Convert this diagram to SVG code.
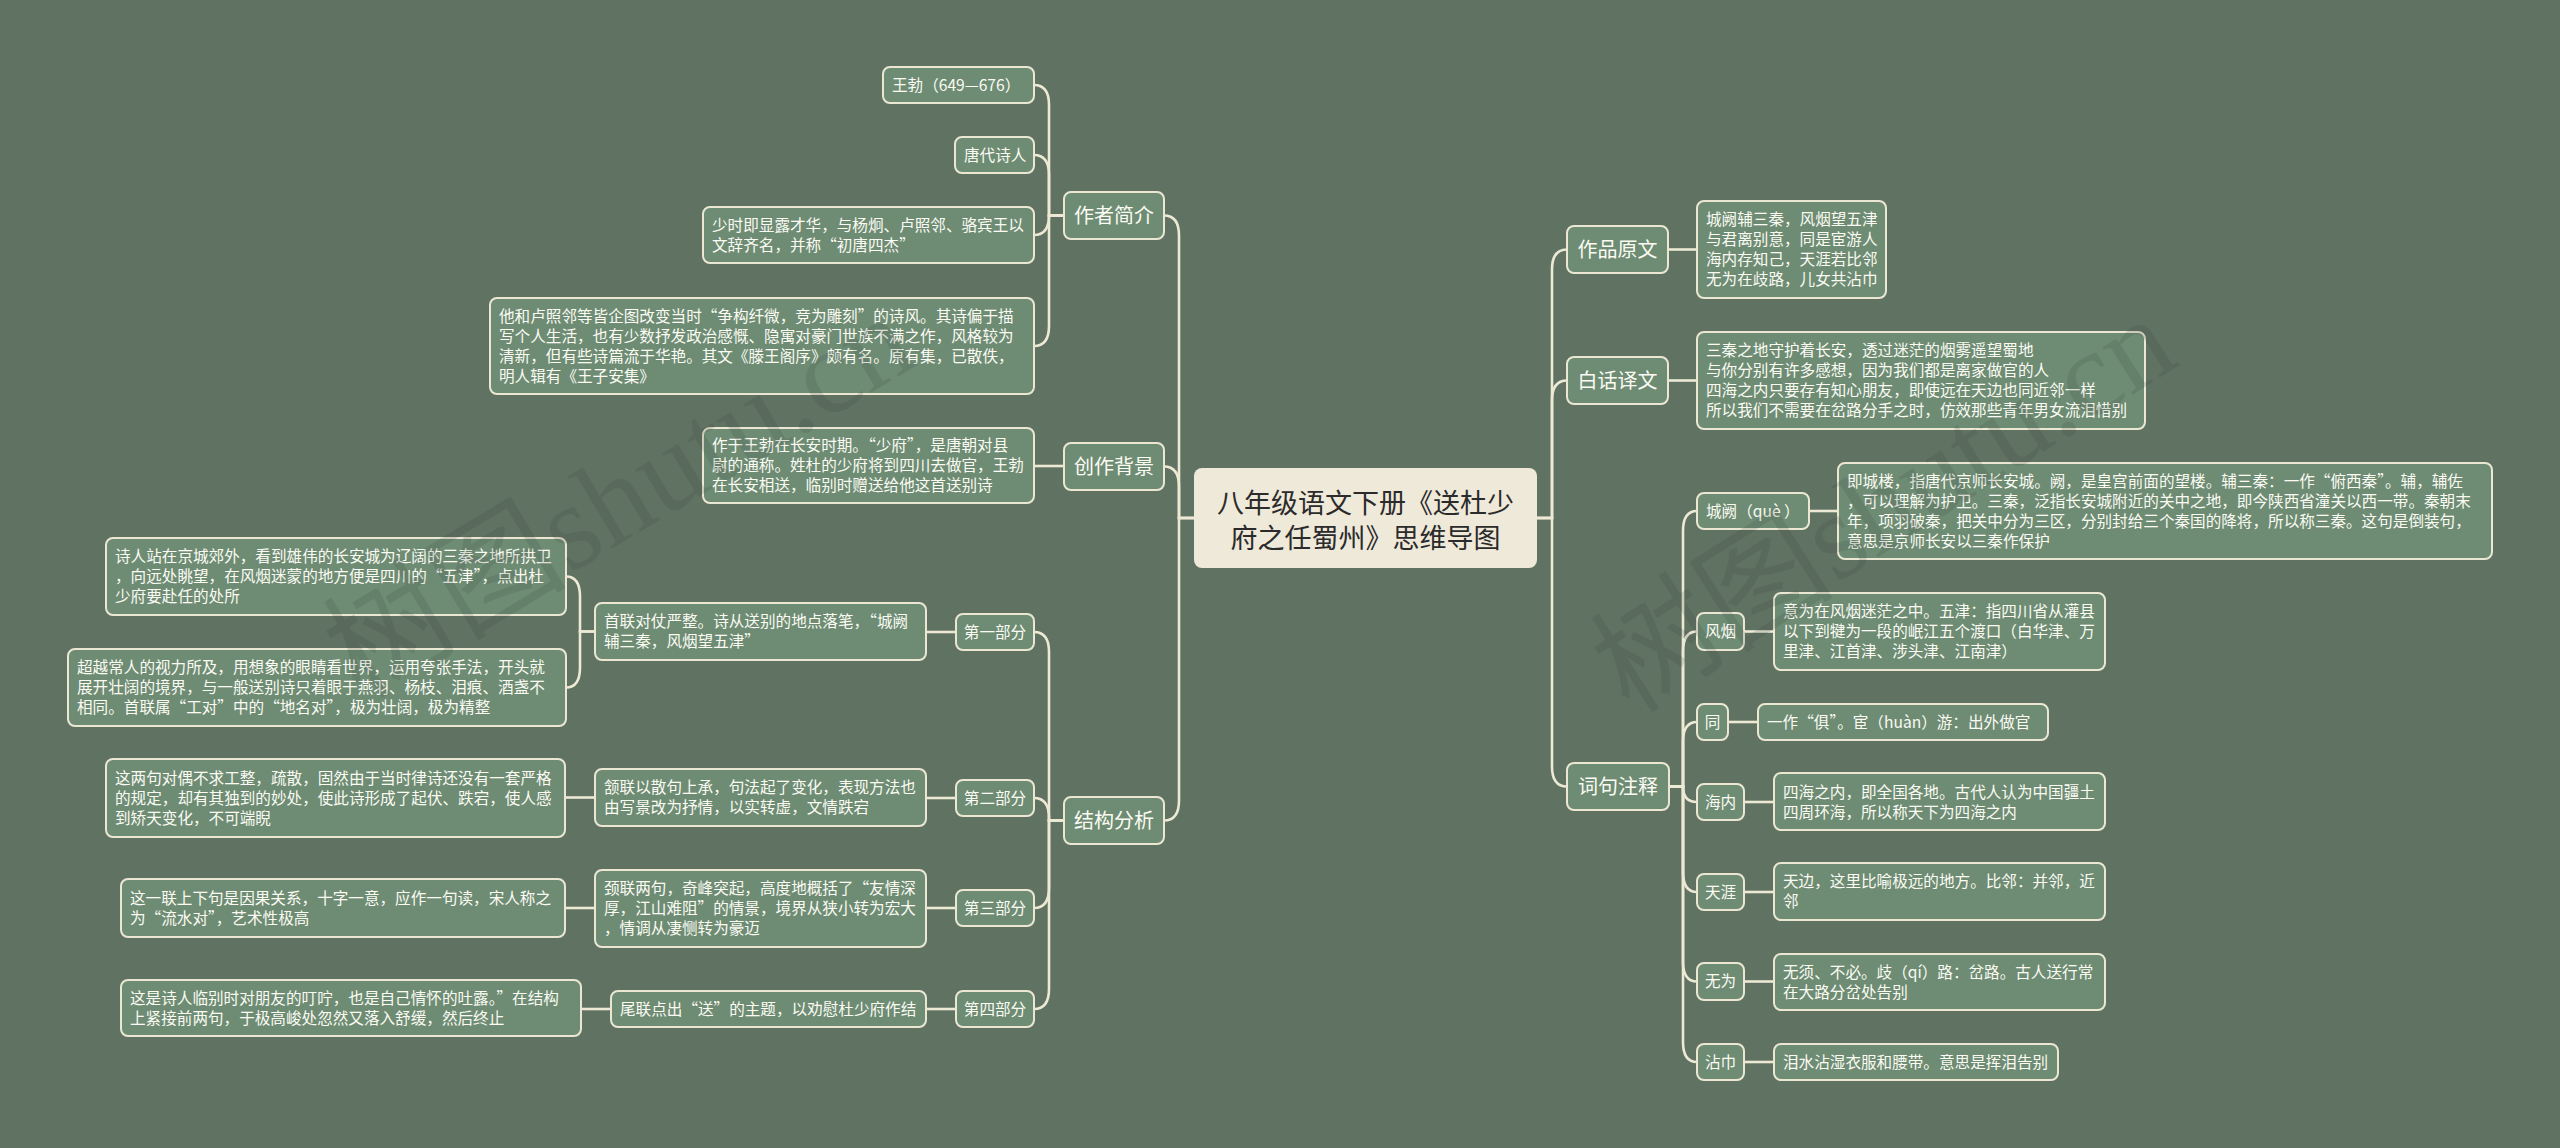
<svg xmlns="http://www.w3.org/2000/svg" width="2560" height="1148" viewBox="0 0 2560 1148">
<style>
.n{fill:#6e8c73;stroke:#ebe7d3;stroke-width:2}
.root{fill:#efe9da}
.t{font-family:"Noto Sans CJK SC","Liberation Sans",sans-serif;font-size:15.6px;fill:#fbfbf3}
.c{text-anchor:middle}
.lb{font-family:"Noto Sans CJK SC","Liberation Sans",sans-serif;font-size:20px;fill:#fbfbf3;text-anchor:middle}
.rt{font-family:"Noto Sans CJK SC","Liberation Sans",sans-serif;font-size:27px;fill:#2b2b2b;text-anchor:middle}
.wm{font-family:"Liberation Serif","Noto Sans CJK SC",serif;font-size:122px;fill:#3c463f;fill-opacity:0.17}
#connectors path{fill:none;stroke:#ede9d5;stroke-width:2.6}
</style>
<rect width="2560" height="1148" fill="#607262"/>

<g id="connectors">
<path d="M1194 518 H1179 V235.5 Q1179 215.5 1164 215.5"/>
<path d="M1194 518 H1179 V486.5 Q1179 466.5 1164 466.5"/>
<path d="M1194 518 H1179 V800.5 Q1179 820.5 1164 820.5"/>
<path d="M1064 215.5 H1049 V105 Q1049 85 1034 85"/>
<path d="M1064 215.5 H1049 V175 Q1049 155 1034 155"/>
<path d="M1064 215.5 H1049 Q1049 235 1034 235"/>
<path d="M1064 215.5 H1049 V326 Q1049 346 1034 346"/>
<path d="M1064 466 H1034"/>
<path d="M1064 820.5 H1049 V652 Q1049 632 1034 632"/>
<path d="M1064 820.5 H1049 V818 Q1049 798 1034 798"/>
<path d="M1064 820.5 H1049 V888 Q1049 908 1034 908"/>
<path d="M1064 820.5 H1049 V989 Q1049 1009 1034 1009"/>
<path d="M956 632 H926"/>
<path d="M595 631.5 H580 V596.5 Q580 576.5 566 576.5"/>
<path d="M595 631.5 H580 V667.5 Q580 687.5 566 687.5"/>
<path d="M956 798 H926"/>
<path d="M595 797.5 H565"/>
<path d="M956 908 H926"/>
<path d="M595 908 H565"/>
<path d="M956 1009 H926"/>
<path d="M611 1009 H581"/>
<path d="M1537 518 H1552 V269.5 Q1552 249.5 1567 249.5"/>
<path d="M1537 518 H1552 V400.5 Q1552 380.5 1567 380.5"/>
<path d="M1537 518 H1552 V766.5 Q1552 786.5 1567 786.5"/>
<path d="M1668 249.5 H1697"/>
<path d="M1668 380.5 H1697"/>
<path d="M1669 786.5 H1683 V531 Q1683 511 1697 511"/>
<path d="M1669 786.5 H1683 V651.5 Q1683 631.5 1697 631.5"/>
<path d="M1669 786.5 H1683 V742 Q1683 722 1697 722"/>
<path d="M1669 786.5 H1683 Q1683 802 1697 802"/>
<path d="M1669 786.5 H1683 V872 Q1683 892 1697 892"/>
<path d="M1669 786.5 H1683 V961.5 Q1683 981.5 1697 981.5"/>
<path d="M1669 786.5 H1683 V1042 Q1683 1062 1697 1062"/>
<path d="M1809 511 H1838"/>
<path d="M1744 631.5 H1774"/>
<path d="M1728 722 H1758"/>
<path d="M1744 802 H1774"/>
<path d="M1744 892 H1774"/>
<path d="M1744 981.5 H1774"/>
<path d="M1744 1062 H1774"/>
</g>

<g id="root">
<rect class="root" x="1194" y="468" width="343" height="100" rx="8"/>
<text class="rt" x="1365.5" y="513">八年级语文下册《送杜少</text>
<text class="rt" x="1365.5" y="548">府之任蜀州》思维导图</text>
</g>

<g id="n-zuozhe">
<rect class="n" x="1064" y="192" width="100" height="47" rx="7"/>
<text class="lb" x="1114" y="223">作者简介</text>
</g>
<g id="n-wangbo">
<rect class="n" x="883" y="67" width="151" height="36" rx="7"/>
<text class="t" x="892" y="90.5">王勃（649—676）</text>
</g>
<g id="n-tangdai">
<rect class="n" x="955" y="137" width="79" height="36" rx="7"/>
<text class="t" x="964" y="160.5">唐代诗人</text>
</g>
<g id="n-shaoshi">
<rect class="n" x="703" y="207" width="331" height="56" rx="7"/>
<text class="t" x="712" y="230.5">少时即显露才华，与杨炯、卢照邻、骆宾王以</text>
<text class="t" x="712" y="250.5">文辞齐名，并称“初唐四杰”</text>
</g>
<g id="n-tahe">
<rect class="n" x="490" y="298" width="544" height="96" rx="7"/>
<text class="t" x="499" y="321.5">他和卢照邻等皆企图改变当时“争构纤微，竞为雕刻”的诗风。其诗偏于描</text>
<text class="t" x="499" y="341.5">写个人生活，也有少数抒发政治感慨、隐寓对豪门世族不满之作，风格较为</text>
<text class="t" x="499" y="361.5">清新，但有些诗篇流于华艳。其文《滕王阁序》颇有名。原有集，已散佚，</text>
<text class="t" x="499" y="381.5">明人辑有《王子安集》</text>
</g>

<g id="n-chuangzuo">
<rect class="n" x="1064" y="443" width="100" height="47" rx="7"/>
<text class="lb" x="1114" y="474">创作背景</text>
</g>
<g id="n-zuoyu">
<rect class="n" x="703" y="428" width="331" height="75" rx="7"/>
<text class="t" x="712" y="451">作于王勃在长安时期。“少府”，是唐朝对县</text>
<text class="t" x="712" y="471">尉的通称。姓杜的少府将到四川去做官，王勃</text>
<text class="t" x="712" y="491">在长安相送，临别时赠送给他这首送别诗</text>
</g>

<g id="n-jiegou">
<rect class="n" x="1064" y="797" width="100" height="47" rx="7"/>
<text class="lb" x="1114" y="828">结构分析</text>
</g>
<g id="n-p1">
<rect class="n" x="956" y="614" width="78" height="36" rx="7"/>
<text class="t c" x="995" y="637.5">第一部分</text>
</g>
<g id="n-shoulian">
<rect class="n" x="595" y="603" width="331" height="57" rx="7"/>
<text class="t" x="604" y="627">首联对仗严整。诗从送别的地点落笔，“城阙</text>
<text class="t" x="604" y="647">辅三秦，风烟望五津”</text>
</g>
<g id="n-shiren">
<rect class="n" x="106" y="538" width="460" height="77" rx="7"/>
<text class="t" x="115" y="562">诗人站在京城郊外，看到雄伟的长安城为辽阔的三秦之地所拱卫</text>
<text class="t" x="115" y="582">，向远处眺望，在风烟迷蒙的地方便是四川的“五津”，点出杜</text>
<text class="t" x="115" y="602">少府要赴任的处所</text>
</g>
<g id="n-chaoyue">
<rect class="n" x="68" y="649" width="498" height="77" rx="7"/>
<text class="t" x="77" y="673">超越常人的视力所及，用想象的眼睛看世界，运用夸张手法，开头就</text>
<text class="t" x="77" y="693">展开壮阔的境界，与一般送别诗只着眼于燕羽、杨枝、泪痕、酒盏不</text>
<text class="t" x="77" y="713">相同。首联属“工对”中的“地名对”，极为壮阔，极为精整</text>
</g>
<g id="n-p2">
<rect class="n" x="956" y="780" width="78" height="36" rx="7"/>
<text class="t c" x="995" y="803.5">第二部分</text>
</g>
<g id="n-hanlian">
<rect class="n" x="595" y="769" width="331" height="57" rx="7"/>
<text class="t" x="604" y="793">颔联以散句上承，句法起了变化，表现方法也</text>
<text class="t" x="604" y="813">由写景改为抒情，以实转虚，文情跌宕</text>
</g>
<g id="n-zheliang">
<rect class="n" x="106" y="759" width="459" height="78" rx="7"/>
<text class="t" x="115" y="783.5">这两句对偶不求工整，疏散，固然由于当时律诗还没有一套严格</text>
<text class="t" x="115" y="803.5">的规定，却有其独到的妙处，使此诗形成了起伏、跌宕，使人感</text>
<text class="t" x="115" y="823.5">到矫天变化，不可端睨</text>
</g>
<g id="n-p3">
<rect class="n" x="956" y="890" width="78" height="36" rx="7"/>
<text class="t c" x="995" y="913.5">第三部分</text>
</g>
<g id="n-jinglian">
<rect class="n" x="595" y="870" width="331" height="77" rx="7"/>
<text class="t" x="604" y="894">颈联两句，奇峰突起，高度地概括了“友情深</text>
<text class="t" x="604" y="914">厚，江山难阻”的情景，境界从狭小转为宏大</text>
<text class="t" x="604" y="934">，情调从凄恻转为豪迈</text>
</g>
<g id="n-zheyilian">
<rect class="n" x="121" y="879" width="444" height="58" rx="7"/>
<text class="t" x="130" y="903.5">这一联上下句是因果关系，十字一意，应作一句读，宋人称之</text>
<text class="t" x="130" y="923.5">为“流水对”，艺术性极高</text>
</g>
<g id="n-p4">
<rect class="n" x="956" y="991" width="78" height="36" rx="7"/>
<text class="t c" x="995" y="1014.5">第四部分</text>
</g>
<g id="n-weilian">
<rect class="n" x="611" y="991" width="315" height="36" rx="7"/>
<text class="t" x="620" y="1014.5">尾联点出“送”的主题，以劝慰杜少府作结</text>
</g>
<g id="n-zheshi">
<rect class="n" x="121" y="980" width="460" height="56" rx="7"/>
<text class="t" x="130" y="1003.5">这是诗人临别时对朋友的叮咛，也是自己情怀的吐露。”在结构</text>
<text class="t" x="130" y="1023.5">上紧接前两句，于极高峻处忽然又落入舒缓，然后终止</text>
</g>

<g id="n-yuanwen">
<rect class="n" x="1567" y="226" width="101" height="47" rx="7"/>
<text class="lb" x="1617.5" y="257">作品原文</text>
</g>
<g id="n-yuanwen-t">
<rect class="n" x="1697" y="201" width="189" height="97" rx="7"/>
<text class="t" x="1706" y="225">城阙辅三秦，风烟望五津</text>
<text class="t" x="1706" y="245">与君离别意，同是宦游人</text>
<text class="t" x="1706" y="265">海内存知己，天涯若比邻</text>
<text class="t" x="1706" y="285">无为在歧路，儿女共沾巾</text>
</g>
<g id="n-baihua">
<rect class="n" x="1567" y="357" width="101" height="47" rx="7"/>
<text class="lb" x="1617.5" y="388">白话译文</text>
</g>
<g id="n-baihua-t">
<rect class="n" x="1697" y="332" width="448" height="97" rx="7"/>
<text class="t" x="1706" y="356">三秦之地守护着长安，透过迷茫的烟雾遥望蜀地</text>
<text class="t" x="1706" y="376">与你分别有许多感想，因为我们都是离家做官的人</text>
<text class="t" x="1706" y="396">四海之内只要存有知心朋友，即使远在天边也同近邻一样</text>
<text class="t" x="1706" y="416">所以我们不需要在岔路分手之时，仿效那些青年男女流泪惜别</text>
</g>
<g id="n-zhushi">
<rect class="n" x="1567" y="763" width="102" height="47" rx="7"/>
<text class="lb" x="1618" y="794">词句注释</text>
</g>
<g id="n-chengque">
<rect class="n" x="1697" y="493" width="112" height="36" rx="7"/>
<text class="t" x="1706" y="516.5">城阙（què ）</text>
</g>
<g id="n-chengque-t">
<rect class="n" x="1838" y="463" width="654" height="96" rx="7"/>
<text class="t" x="1847" y="486.5">即城楼，指唐代京师长安城。阙，是皇宫前面的望楼。辅三秦：一作“俯西秦”。辅，辅佐</text>
<text class="t" x="1847" y="506.5">，可以理解为护卫。三秦，泛指长安城附近的关中之地，即今陕西省潼关以西一带。秦朝末</text>
<text class="t" x="1847" y="526.5">年，项羽破秦，把关中分为三区，分别封给三个秦国的降将，所以称三秦。这句是倒装句，</text>
<text class="t" x="1847" y="546.5">意思是京师长安以三秦作保护</text>
</g>
<g id="n-fengyan">
<rect class="n" x="1697" y="613" width="47" height="37" rx="7"/>
<text class="t c" x="1720.5" y="637">风烟</text>
</g>
<g id="n-fengyan-t">
<rect class="n" x="1774" y="593" width="331" height="77" rx="7"/>
<text class="t" x="1783" y="617">意为在风烟迷茫之中。五津：指四川省从灌县</text>
<text class="t" x="1783" y="637">以下到犍为一段的岷江五个渡口（白华津、万</text>
<text class="t" x="1783" y="657">里津、江首津、涉头津、江南津）</text>
</g>
<g id="n-tong">
<rect class="n" x="1697" y="704" width="31" height="36" rx="7"/>
<text class="t c" x="1712.5" y="727.5">同</text>
</g>
<g id="n-tong-t">
<rect class="n" x="1758" y="704" width="290" height="36" rx="7"/>
<text class="t" x="1767" y="727.5">一作“俱”。宦（huàn）游：出外做官</text>
</g>
<g id="n-hainei">
<rect class="n" x="1697" y="784" width="47" height="36" rx="7"/>
<text class="t c" x="1720.5" y="807.5">海内</text>
</g>
<g id="n-hainei-t">
<rect class="n" x="1774" y="773" width="331" height="57" rx="7"/>
<text class="t" x="1783" y="797.5">四海之内，即全国各地。古代人认为中国疆土</text>
<text class="t" x="1783" y="817.5">四周环海，所以称天下为四海之内</text>
</g>
<g id="n-tianya">
<rect class="n" x="1697" y="874" width="47" height="36" rx="7"/>
<text class="t c" x="1720.5" y="897.5">天涯</text>
</g>
<g id="n-tianya-t">
<rect class="n" x="1774" y="863" width="331" height="57" rx="7"/>
<text class="t" x="1783" y="887">天边，这里比喻极远的地方。比邻：并邻，近</text>
<text class="t" x="1783" y="907">邻</text>
</g>
<g id="n-wuwei">
<rect class="n" x="1697" y="963" width="47" height="37" rx="7"/>
<text class="t c" x="1720.5" y="987">无为</text>
</g>
<g id="n-wuwei-t">
<rect class="n" x="1774" y="954" width="331" height="56" rx="7"/>
<text class="t" x="1783" y="977.5">无须、不必。歧（qí）路：岔路。古人送行常</text>
<text class="t" x="1783" y="997.5">在大路分岔处告别</text>
</g>
<g id="n-zhanjin">
<rect class="n" x="1697" y="1044" width="47" height="36" rx="7"/>
<text class="t c" x="1720.5" y="1067.5">沾巾</text>
</g>
<g id="n-zhanjin-t">
<rect class="n" x="1774" y="1044" width="284" height="36" rx="7"/>
<text class="t" x="1783" y="1067.5">泪水沾湿衣服和腰带。意思是挥泪告别</text>
</g>

<g id="watermarks">
<text class="wm" transform="translate(360 700) rotate(-31)">树图shutu.cn</text>
<text class="wm" transform="translate(1630 715) rotate(-32.5)">树图shutu.cn</text>
</g>
</svg>
